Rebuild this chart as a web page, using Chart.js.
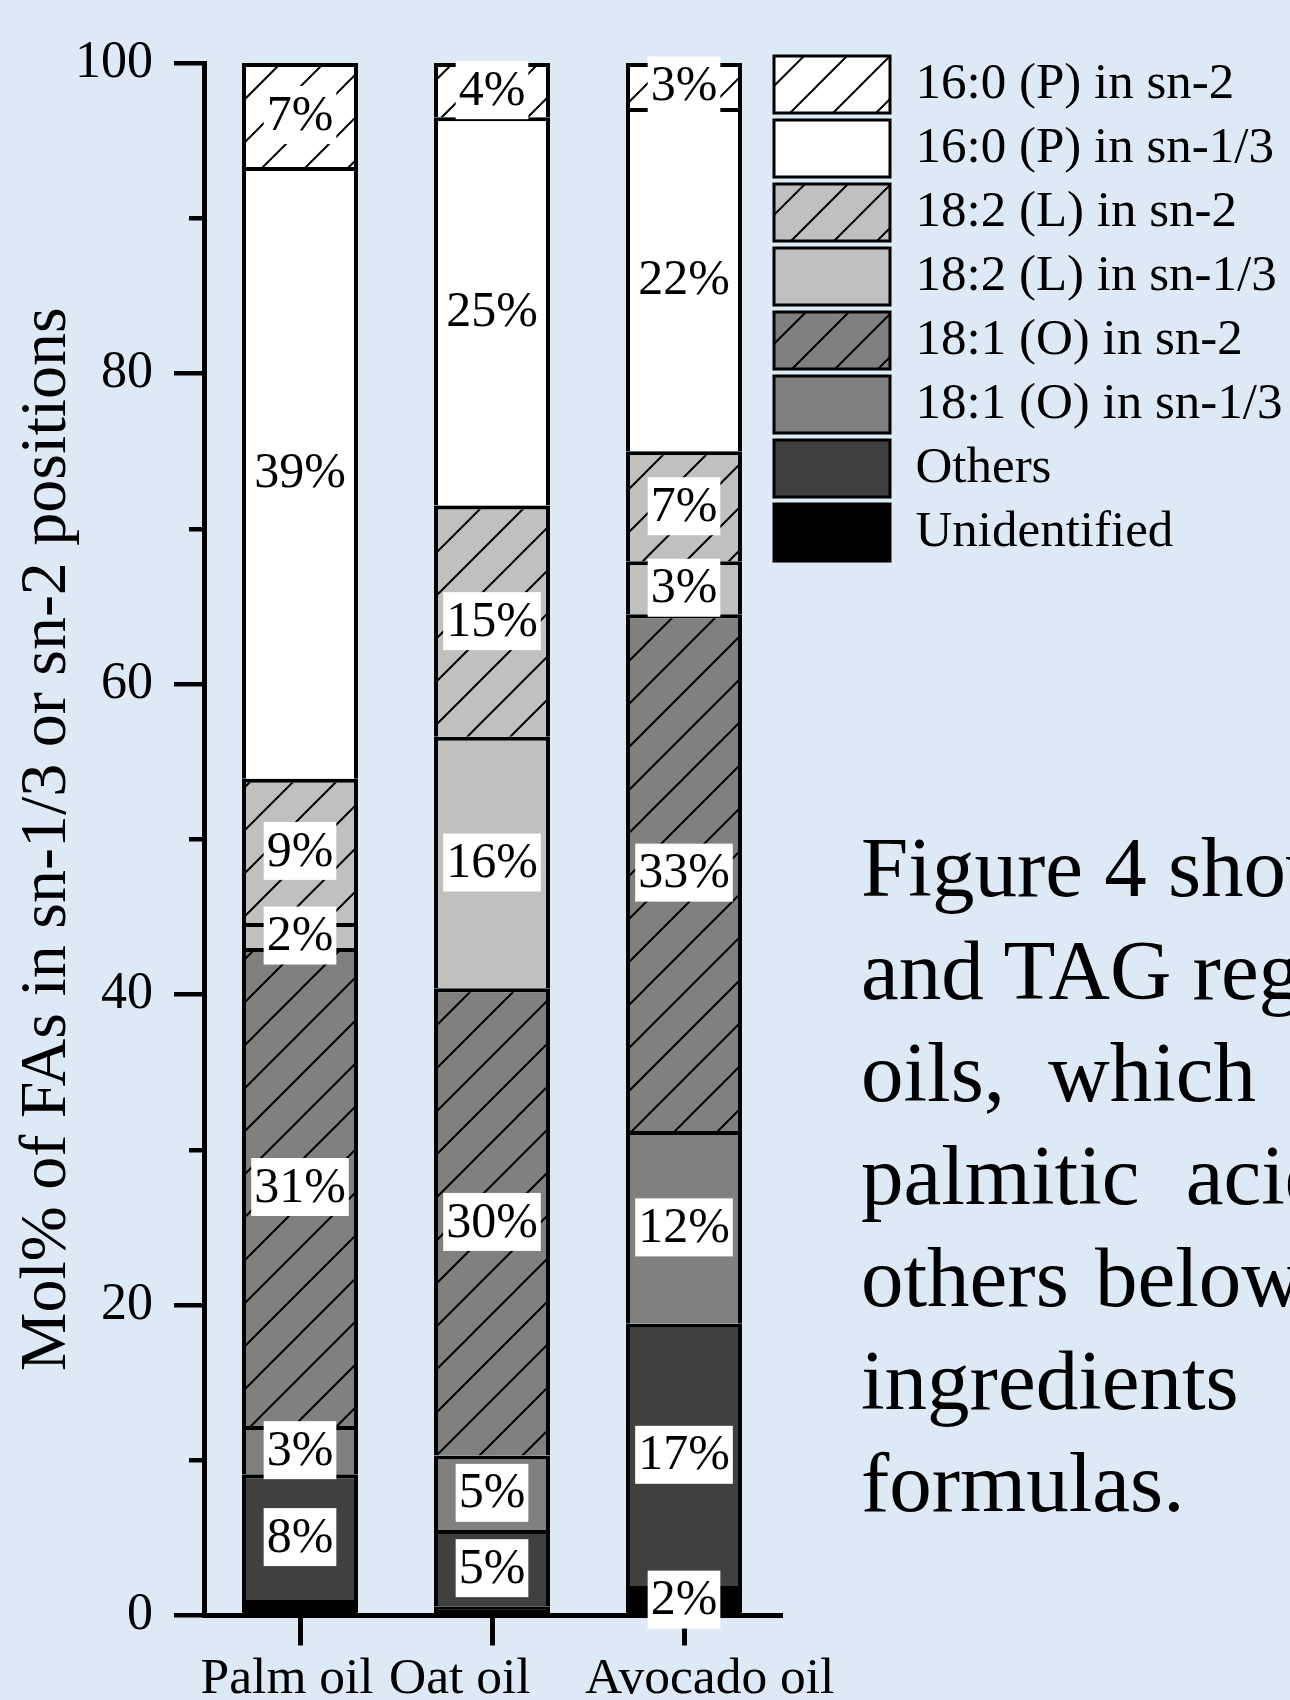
<!DOCTYPE html>
<html>
<head>
<meta charset="utf-8">
<script src="https://cdn.jsdelivr.net/npm/chart.js@4"></script>
<style>
html,body{margin:0;padding:0;background:#dde9f5;width:1290px;height:1700px;overflow:hidden;}
#wrap{position:relative;width:1290px;height:1700px;}
#c{position:absolute;left:0;top:0;}
#para{position:absolute;left:861px;top:816px;width:429px;overflow:hidden;font-family:"Liberation Serif";font-size:85px;line-height:102.5px;color:#000;white-space:pre;}
</style>
</head>
<body>
<div id="wrap">
<canvas id="c" width="1290" height="1700"></canvas>
<div id="para"><div>Figure 4 shows</div><div>and TAG regio</div><div style="word-spacing:22px">oils, which</div><div style="word-spacing:25px">palmitic acid</div><div style="word-spacing:5px">others below</div><div>ingredients</div><div>formulas.</div></div>
</div>
<script>
// ---- data ----
const categories = ['Palm oil', 'Oat oil', 'Avocado oil'];
const unidentified = [1.0, 0.6, 1.9];
const others = [8.1, 4.9, 16.9];
const olein13 = [3.1, 4.8, 12.4];
const olein2 = [30.8, 30.1, 33.3];
const linoleic13 = [1.6, 16.2, 3.4];
const linoleic2 = [9.3, 14.9, 7.1];
const palmitic13 = [39.4, 25.0, 22.1];
const palmitic2 = [6.7, 3.5, 2.9];
const yMajorTicks = [0, 20, 40, 60, 80, 100];
const yMinorTicks = [10, 30, 50, 70, 90];
const yTitle = 'Mol% of FAs in sn-1/3 or sn-2 positions';

// ---- styling helpers ----
const FONT = '"Liberation Serif"';
Chart.defaults.font.family = FONT;
Chart.defaults.color = '#000';

function makeHatch(bg) {
  const s = 43;
  const c = document.createElement('canvas');
  c.width = s; c.height = s;
  const g = c.getContext('2d');
  g.fillStyle = bg; g.fillRect(0, 0, s, s);
  g.strokeStyle = '#000'; g.lineWidth = 2;
  g.beginPath();
  g.moveTo(-s, s); g.lineTo(s, -s);
  g.moveTo(0, s); g.lineTo(s, 0);
  g.moveTo(0, 2 * s); g.lineTo(2 * s, 0);
  g.stroke();
  return g.createPattern(c, 'repeat');
}

const xLabelPad = [['', '  '], ['', '     '], ['    ', '']];

const barBorder = {top: 4, left: 4, right: 4, bottom: 0};
function ds(label, data, bg) {
  return {label, data, backgroundColor: bg, borderColor: '#000', borderWidth: barBorder,
    borderSkipped: false, xAxisID: 'x', yAxisID: 'y',
    categoryPercentage: 1, barPercentage: 0.604};
}

const segmentLabels = {
  id: 'segmentLabels',
  afterDatasetsDraw(chart) {
    const ctx = chart.ctx;
    ctx.save();
    ctx.font = '50px ' + FONT;
    ctx.textAlign = 'center';
    ctx.textBaseline = 'middle';
    chart.data.datasets.forEach((d, i) => {
      const meta = chart.getDatasetMeta(i);
      meta.data.forEach((bar, j) => {
        const v = d.data[j];
        if (v < 1.5) return;
        const p = bar.getProps(['x', 'y', 'base'], true);
        const cy = (p.y + p.base) / 2;
        const txt = Math.round(v) + '%';
        const w = ctx.measureText(txt).width + 6;
        ctx.fillStyle = '#fff';
        ctx.fillRect(p.x - w / 2, cy - 29, w, 58);
        ctx.fillStyle = '#000';
        ctx.fillText(txt, p.x, cy + 1.5);
      });
    });
    ctx.restore();
  }
};

const placeLegend = {
  id: 'placeLegend',
  beforeDraw(chart) {
    const lg = chart.legend;
    if (lg) { lg.left = 767; lg.top = 49; lg.right = 1290; lg.bottom = 1700; lg.width = 523; lg.height = 1651; }
  }
};

new Chart(document.getElementById('c'), {
  type: 'bar',
  data: {
    labels: categories,
    datasets: [
      ds('Unidentified', unidentified, '#000000'),
      ds('Others', others, '#404040'),
      ds('18:1 (O) in sn-1/3', olein13, '#808080'),
      ds('18:1 (O) in sn-2', olein2, makeHatch('#808080')),
      ds('18:2 (L) in sn-1/3', linoleic13, '#c0c0c0'),
      ds('18:2 (L) in sn-2', linoleic2, makeHatch('#c0c0c0')),
      ds('16:0 (P) in sn-1/3', palmitic13, '#ffffff'),
      ds('16:0 (P) in sn-2', palmitic2, makeHatch('#ffffff'))
    ]
  },
  options: {
    responsive: false,
    animation: false,
    devicePixelRatio: 1,
    layout: {padding: {left: 0, top: 63, right: 509, bottom: 0}},
    plugins: {
      tooltip: {enabled: false},
      legend: {
        display: true, position: 'right', align: 'start', maxWidth: 1, reverse: true,
        labels: {boxWidth: 116, boxHeight: 57, padding: 7, color: '#000',
          font: {family: FONT, size: 51}}
      }
    },
    scales: {
      x: {
        type: 'category', stacked: true, offset: true,
        grid: {display: true, drawOnChartArea: false, offset: false, tickLength: 30, lineWidth: 5, color: '#000'},
        border: {display: true, width: 5, color: '#000'},
        ticks: {
          font: {family: FONT, size: 51.5}, color: '#000', padding: 3,
          autoSkip: false, maxRotation: 0, minRotation: 0,
          callback: function (value, index) {
            const p = xLabelPad[index];
            return p[0] + categories[index] + p[1];
          }
        },
        afterFit: (s) => { s.height = 84.5; }
      },
      y: {
        type: 'linear', position: 'left', stacked: true, min: 0, max: 100, weight: 1,
        afterBuildTicks: (s) => { s.ticks = yMajorTicks.map(v => ({value: v})); },
        grid: {drawOnChartArea: false, tickLength: 30, lineWidth: 4.5, color: '#000'},
        border: {display: true, width: 5, color: '#000'},
        ticks: {font: {family: FONT, size: 52}, color: '#000', padding: 21},
        title: {display: true, text: yTitle, color: '#000',
          font: {family: FONT, size: 66}, padding: {top: 8.4, bottom: 0}},
        afterFit: (s) => { s.width = 204; }
      },
      yMinor: {
        type: 'linear', position: 'left', min: 0, max: 100, weight: 0,
        afterBuildTicks: (s) => { s.ticks = yMinorTicks.map(v => ({value: v})); },
        grid: {drawOnChartArea: false, tickLength: 15, lineWidth: 4.5, color: '#000'},
        border: {display: false},
        ticks: {display: false},
        afterFit: (s) => { s.width = 0; }
      }
    }
  },
  plugins: [segmentLabels, placeLegend]
});
</script>
</body>
</html>
